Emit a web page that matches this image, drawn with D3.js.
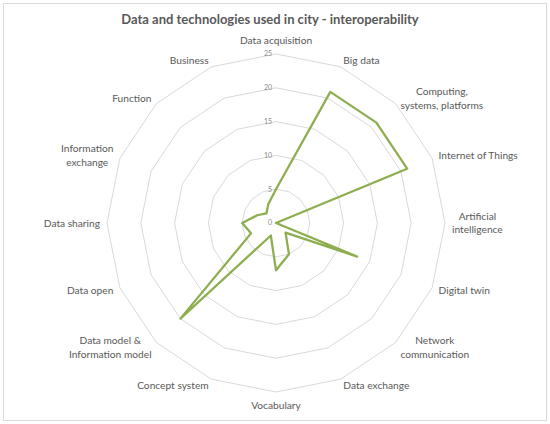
<!DOCTYPE html>
<html>
<head>
<meta charset="utf-8">
<script src="https://cdn.jsdelivr.net/npm/d3@7"></script>
<style>
  html, body { margin: 0; padding: 0; background: #fff; }
  svg { display: block; }
  text { font-family: Lato, "Open Sans", sans-serif; }
</style>
</head>
<body>
<svg id="chart" width="550" height="424"></svg>
<script>
const title = "Data and technologies used in city - interoperability";
const categories = [
  "Data acquisition", "Big data", "Computing,\nsystems, platforms", "Internet of Things",
  "Artificial\nintelligence", "Digital twin", "Network\ncommunication", "Data exchange",
  "Vocabulary", "Concept system", "Data model &\nInformation model", "Data open",
  "Data sharing", "Information\nexchange", "Function", "Business"
];
const values = [5, 21, 21, 21, 0, 13, 2, 5, 7, 2, 20, 4, 5, 3, 2, 3];
const tickValues = [0, 5, 10, 15, 20, 25];

const W = 550, H = 424;
const cx = 276, cy = 223, R = 169;
const svg = d3.select("#chart");

svg.append("rect")
  .attr("x", 3.5).attr("y", 3.5).attr("width", W - 7).attr("height", H - 7)
  .attr("fill", "#fff").attr("stroke", "#d9d9d9").attr("stroke-width", 1);

svg.append("text")
  .attr("x", 270).attr("y", 24)
  .attr("text-anchor", "middle")
  .attr("font-size", 13).attr("font-weight", "bold")
  .attr("fill", "#595959")
  .text(title);

const rScale = d3.scaleLinear().domain([0, 25]).range([0, R]);
const aScale = d3.scaleLinear().domain([0, categories.length]).range([0, 2 * Math.PI]);

const g = svg.append("g").attr("transform", `translate(${cx},${cy})`);

// gridlines
const idx = d3.range(categories.length);
tickValues.filter(t => t > 0).forEach(t => {
  g.append("path")
    .attr("d", d3.lineRadial().angle(i => aScale(i)).radius(() => rScale(t)).curve(d3.curveLinearClosed)(idx))
    .attr("fill", "none").attr("stroke", "#d9d9d9").attr("stroke-width", 1);
});

// tick labels
g.selectAll(".tick").data(tickValues).enter().append("text")
  .attr("x", -4).attr("y", d => -rScale(d))
  .attr("dy", "0.35em")
  .attr("text-anchor", "end")
  .attr("font-size", 7).attr("fill", "#8c8c8c")
  .text(d => d);

// data line
g.append("path")
  .datum(values)
  .attr("d", d3.lineRadial().angle((d, i) => aScale(i)).radius(d => rScale(d)).curve(d3.curveLinearClosed))
  .attr("fill", "none").attr("stroke", "#8cae4e").attr("stroke-width", 2.25)
  .attr("stroke-linejoin", "round");

// category labels
const LR = 176, fs = 10.2, lh = 13.5;
categories.forEach((c, i) => {
  const a = aScale(i);
  const s = Math.sin(a), co = Math.cos(a);
  const lines = c.split("\n");
  const t = g.append("text").attr("font-size", fs).attr("fill", "#595959");
  const tsp = lines.map(l => t.append("tspan").text(l));
  const widths = tsp.map(ts => ts.node().getComputedTextLength());
  const bw = d3.max(widths);
  const bh = lines.length * lh;
  let ax = LR * s, ay = -LR * co;
  let boxCx, boxCy;
  if (Math.abs(s) < 0.01) {
    boxCx = ax;
    boxCy = ay - Math.sign(co) * (bh / 2);
  } else {
    boxCx = ax + Math.sign(s) * bw / 2;
    boxCy = ay;
  }
  tsp.forEach((ts, k) => {
    ts.attr("x", boxCx).attr("text-anchor", "middle")
      .attr("y", boxCy - bh / 2 + lh * k + lh / 2)
      .attr("dy", "0.35em");
  });
});
</script>
</body>
</html>
